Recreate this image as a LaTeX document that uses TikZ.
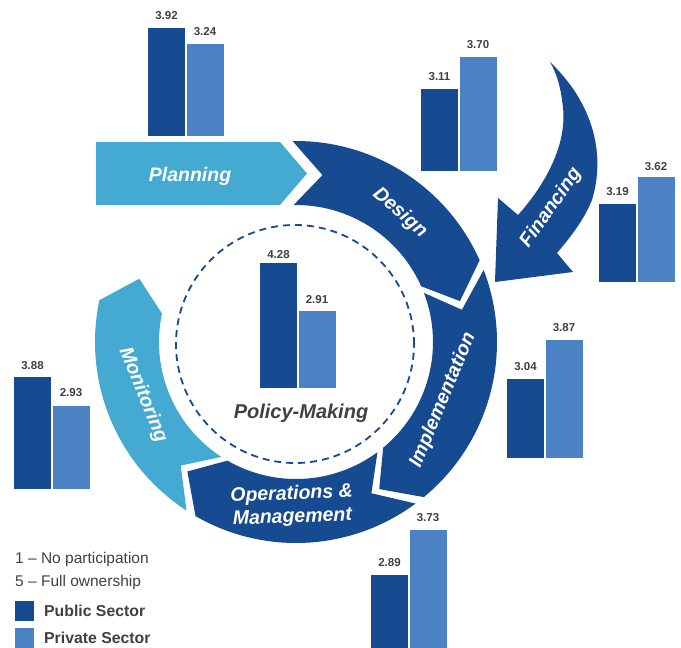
\documentclass[tikz,border=0pt]{standalone}
\usepackage{fontspec}
\setmainfont{Liberation Sans}
\definecolor{dblue}{HTML}{164A91}
\definecolor{lblue}{HTML}{45AAD2}
\definecolor{pblue}{HTML}{4A82C3}
\definecolor{txtgray}{HTML}{404040}
\begin{document}
\begin{tikzpicture}[x=1pt,y=1pt,
  numlbl/.style={font=\fontsize{11.5}{12}\selectfont\bfseries, text=txtgray, inner sep=0pt},
  ringlbl/.style={font=\fontsize{19.5}{23}\selectfont\bfseries\itshape, text=white, inner sep=0pt},
  pmlbl/.style={font=\fontsize{20}{23}\selectfont\bfseries\itshape, text=txtgray, inner sep=0pt},
  legtxt/.style={font=\fontsize{15.5}{18}\selectfont, text=txtgray, inner sep=0pt, anchor=west},
  legbold/.style={font=\fontsize{15.8}{18}\selectfont\bfseries, text=txtgray, inner sep=0pt, anchor=west},
  pubbar/.style={fill=dblue},
  privbar/.style={fill=pblue}]
\useasboundingbox (0,0) rectangle (681,-648);

% ---- ring segments ----
\def\Ro{201}\def\Ri{137}\def\Rm{169}
\begin{scope}[shift={(296,-342)}]
  % Design
  \fill[dblue] (91:\Ro) arc[start angle=91,end angle=24,radius=\Ro] -- (14:\Rm) -- (24:\Ri)
     arc[start angle=24,end angle=91,radius=\Ri] -- (81:\Rm) -- cycle;
  % Implementation
  \fill[dblue] (21:\Ro) arc[start angle=21,end angle=-50.5,radius=\Ro] -- (-60.5:\Rm) -- (-50.5:\Ri)
     arc[start angle=-50.5,end angle=21,radius=\Ri] -- (11:\Rm) -- cycle;
  % Operations & Management
  \fill[dblue] (-53.5:\Ro) arc[start angle=-53.5,end angle=-120,radius=\Ro] -- (-130:\Rm) -- (-120:\Ri)
     arc[start angle=-120,end angle=-53.5,radius=\Ri] -- (-63.5:\Rm) -- cycle;
  % Monitoring
  \fill[lblue] (-123:\Ro) arc[start angle=-123,end angle=-192,radius=\Ro] -- (-202:\Rm) -- (-192:\Ri)
     arc[start angle=-192,end angle=-123,radius=\Ri] -- (-133:\Rm) -- cycle;
\end{scope}

% Planning arrow
\fill[lblue] (96,-142) -- (280,-142) -- (307,-173.5) -- (280,-205) -- (96,-205) -- cycle;

% Financing arrow
\fill[dblue] (550,-62) .. controls (590,-100) and (607,-150) .. (592,-200)
  .. controls (583,-222) and (568,-240) .. (557,-253) -- (573,-272) -- (495,-282) -- (498,-198) -- (518,-215)
  .. controls (545,-185) and (567,-145) .. (563,-108)
  .. controls (561,-88) and (557,-74) .. (550,-62) -- cycle;

% dashed circle
\draw[dblue, line width=1.8pt, dash pattern=on 7pt off 5pt] (295,-344) circle[radius=119];

% ---- labels ----
\node[ringlbl] (planning) at (190,-176) {Planning};
\node[ringlbl, rotate=-41] (design) at (400,-213) {Design};
\node[ringlbl, rotate=67.5] (impl) at (443,-400) {Implementation};
\node[ringlbl, rotate=-68] (monit) at (143,-395) {Monitoring};
\node[ringlbl, rotate=55] (fin) at (551,-208) {Financing};
\node[ringlbl, align=center, rotate=2] (om) at (292,-506) {Operations \&\\Management};
\node[pmlbl] (pm) at (301,-413) {Policy-Making};

% ---- bars ----
% Planning
\fill[pubbar] (148,-136) rectangle (185,-28);
\fill[privbar] (186.5,-136) rectangle (223.5,-44);
\node[numlbl] (b1a) at (166.5,-16) {3.92};
\node[numlbl] (b1b) at (205,-32) {3.24};
% Design
\fill[pubbar] (421,-171) rectangle (458,-89);
\fill[privbar] (459.5,-171) rectangle (496.5,-57);
\node[numlbl] (b2a) at (439.5,-77) {3.11};
\node[numlbl] (b2b) at (478,-45) {3.70};
% Financing
\fill[pubbar] (599,-282) rectangle (636,-204);
\fill[privbar] (637.5,-282) rectangle (674.5,-177);
\node[numlbl] (b3a) at (617.5,-192) {3.19};
\node[numlbl] (b3b) at (656,-167) {3.62};
% Policy-Making
\fill[pubbar] (260,-388) rectangle (297,-263);
\fill[privbar] (298.5,-388) rectangle (335.5,-311);
\node[numlbl] (b4a) at (278.5,-255) {4.28};
\node[numlbl] (b4b) at (317,-300) {2.91};
% Implementation
\fill[pubbar] (507,-458) rectangle (544,-379);
\fill[privbar] (545.5,-458) rectangle (582.5,-340);
\node[numlbl] (b5a) at (525.5,-367) {3.04};
\node[numlbl] (b5b) at (564,-328) {3.87};
% Operations & Management
\fill[pubbar] (371,-648) rectangle (408,-575);
\fill[privbar] (409.5,-648) rectangle (446.5,-530);
\node[numlbl] (b6a) at (389.5,-563) {2.89};
\node[numlbl] (b6b) at (428,-518) {3.73};
% Monitoring
\fill[pubbar] (14,-489) rectangle (51,-377);
\fill[privbar] (52.5,-489) rectangle (89.5,-406);
\node[numlbl] (b7a) at (32.5,-366) {3.88};
\node[numlbl] (b7b) at (71,-393) {2.93};

% ---- legend ----
\node[legtxt] (leg1) at (15,-559) {1 – No participation};
\node[legtxt] (leg2) at (15,-582) {5 – Full ownership};
\fill[pubbar] (15,-601) rectangle (34,-621);
\fill[privbar] (15,-628) rectangle (34,-648);
\node[legbold] (leg3) at (44,-611) {Public Sector};
\node[legbold] (leg4) at (44,-638) {Private Sector};
\end{tikzpicture}
\end{document}
